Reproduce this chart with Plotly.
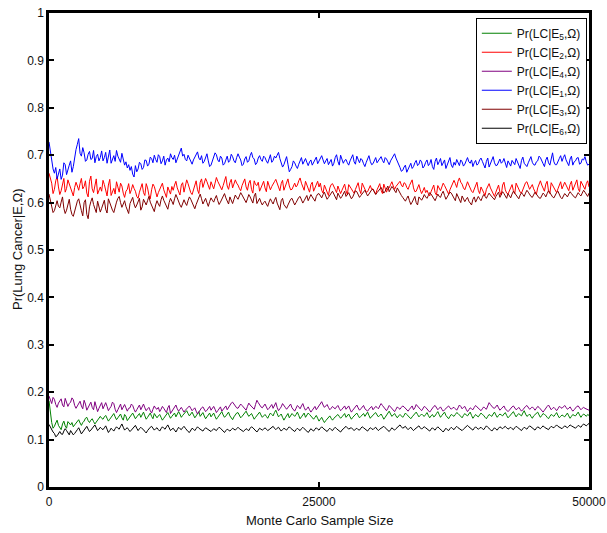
import plotly.graph_objects as go

sample_sizes = list(range(0, 50001, 125))

e1_blue = [
    0.728, 0.705, 0.690, 0.671, 0.662, 0.674, 0.650, 0.663, 0.671, 0.649, 0.658, 0.684, 0.680, 0.659, 0.667, 0.679, 0.688, 0.664, 0.676, 0.697,
    0.712, 0.723, 0.735, 0.704, 0.698, 0.716, 0.705, 0.687, 0.690, 0.702, 0.708, 0.691, 0.693, 0.710, 0.684, 0.697, 0.702, 0.688, 0.695, 0.709,
    0.688, 0.695, 0.706, 0.683, 0.697, 0.711, 0.683, 0.692, 0.699, 0.687, 0.710, 0.698, 0.692, 0.685, 0.704, 0.690, 0.679, 0.686, 0.673, 0.680,
    0.668, 0.676, 0.660, 0.654, 0.678, 0.665, 0.671, 0.685, 0.682, 0.670, 0.674, 0.690, 0.689, 0.677, 0.681, 0.696, 0.693, 0.684, 0.700, 0.691,
    0.685, 0.701, 0.697, 0.682, 0.688, 0.698, 0.679, 0.690, 0.694, 0.686, 0.703, 0.695, 0.691, 0.700, 0.684, 0.692, 0.699, 0.706, 0.715, 0.698,
    0.702, 0.691, 0.688, 0.700, 0.694, 0.685, 0.681, 0.690, 0.697, 0.702, 0.707, 0.694, 0.690, 0.699, 0.683, 0.687, 0.696, 0.703, 0.688, 0.676,
    0.679, 0.688, 0.693, 0.705, 0.701, 0.690, 0.686, 0.698, 0.694, 0.679, 0.682, 0.691, 0.698, 0.685, 0.689, 0.702, 0.697, 0.688, 0.684, 0.695,
    0.703, 0.696, 0.690, 0.678, 0.681, 0.692, 0.697, 0.685, 0.688, 0.699, 0.706, 0.695, 0.692, 0.680, 0.684, 0.694, 0.699, 0.691, 0.687, 0.698,
    0.695, 0.688, 0.683, 0.692, 0.701, 0.685, 0.689, 0.698, 0.694, 0.700, 0.706, 0.693, 0.686, 0.675, 0.680, 0.690, 0.697, 0.681, 0.665, 0.670,
    0.676, 0.688, 0.684, 0.677, 0.672, 0.681, 0.689, 0.695, 0.681, 0.687, 0.693, 0.685, 0.678, 0.686, 0.690, 0.679, 0.684, 0.692, 0.696, 0.682,
    0.688, 0.694, 0.699, 0.690, 0.682, 0.688, 0.693, 0.680, 0.686, 0.691, 0.677, 0.683, 0.695, 0.701, 0.687, 0.679, 0.700, 0.692, 0.683, 0.689,
    0.691, 0.684, 0.679, 0.688, 0.694, 0.701, 0.686, 0.681, 0.698, 0.690, 0.684, 0.693, 0.690, 0.682, 0.676, 0.685, 0.693, 0.699, 0.687, 0.680,
    0.682, 0.689, 0.695, 0.684, 0.688, 0.691, 0.697, 0.689, 0.684, 0.695, 0.692, 0.686, 0.680, 0.688, 0.694, 0.699, 0.703, 0.694, 0.688, 0.681,
    0.674, 0.666, 0.668, 0.675, 0.679, 0.664, 0.671, 0.680, 0.683, 0.672, 0.676, 0.684, 0.689, 0.678, 0.681, 0.690, 0.686, 0.673, 0.677, 0.685,
    0.690, 0.678, 0.682, 0.691, 0.676, 0.670, 0.687, 0.694, 0.680, 0.686, 0.693, 0.678, 0.684, 0.690, 0.672, 0.681, 0.688, 0.695, 0.679, 0.674,
    0.685, 0.679, 0.691, 0.684, 0.678, 0.690, 0.686, 0.677, 0.681, 0.688, 0.695, 0.686, 0.683, 0.690, 0.676, 0.684, 0.689, 0.679, 0.682, 0.690,
    0.694, 0.687, 0.680, 0.673, 0.687, 0.694, 0.675, 0.682, 0.690, 0.697, 0.684, 0.678, 0.679, 0.688, 0.692, 0.683, 0.686, 0.693, 0.681, 0.674,
    0.688, 0.682, 0.677, 0.689, 0.685, 0.680, 0.693, 0.687, 0.680, 0.672, 0.689, 0.696, 0.683, 0.678, 0.676, 0.684, 0.691, 0.697, 0.685, 0.680,
    0.679, 0.686, 0.688, 0.698, 0.695, 0.687, 0.682, 0.676, 0.690, 0.696, 0.684, 0.679, 0.697, 0.705, 0.686, 0.680, 0.680, 0.688, 0.693, 0.699,
    0.687, 0.695, 0.701, 0.690, 0.684, 0.678, 0.692, 0.698, 0.679, 0.686, 0.688, 0.694, 0.695, 0.681, 0.683, 0.692, 0.690, 0.697, 0.686, 0.679,
    0.681]

e2_red = [
    0.662, 0.650, 0.641, 0.619, 0.628, 0.646, 0.655, 0.633, 0.617, 0.625, 0.636, 0.651, 0.622, 0.630, 0.648, 0.640, 0.631, 0.620, 0.614, 0.632,
    0.643, 0.635, 0.626, 0.640, 0.651, 0.629, 0.634, 0.646, 0.620, 0.612, 0.645, 0.656, 0.629, 0.621, 0.639, 0.650, 0.618, 0.627, 0.633, 0.624,
    0.647, 0.638, 0.625, 0.614, 0.637, 0.649, 0.615, 0.623, 0.630, 0.618, 0.644, 0.633, 0.622, 0.641, 0.635, 0.620, 0.611, 0.624, 0.628, 0.640,
    0.619, 0.627, 0.638, 0.630, 0.624, 0.613, 0.609, 0.622, 0.632, 0.640, 0.621, 0.615, 0.640, 0.631, 0.616, 0.608, 0.627, 0.639, 0.634, 0.623,
    0.612, 0.621, 0.629, 0.636, 0.641, 0.627, 0.620, 0.611, 0.633, 0.625, 0.618, 0.634, 0.626, 0.637, 0.645, 0.631, 0.624, 0.616, 0.637, 0.642,
    0.622, 0.635, 0.648, 0.640, 0.630, 0.621, 0.617, 0.628, 0.639, 0.646, 0.627, 0.619, 0.643, 0.650, 0.632, 0.640, 0.651, 0.644, 0.636, 0.628,
    0.644, 0.637, 0.629, 0.641, 0.653, 0.645, 0.638, 0.630, 0.627, 0.636, 0.646, 0.655, 0.635, 0.628, 0.642, 0.649, 0.631, 0.639, 0.648, 0.641,
    0.637, 0.630, 0.625, 0.636, 0.644, 0.650, 0.633, 0.626, 0.641, 0.647, 0.628, 0.620, 0.646, 0.638, 0.636, 0.643, 0.624, 0.631, 0.639, 0.645,
    0.631, 0.623, 0.645, 0.637, 0.627, 0.634, 0.638, 0.644, 0.649, 0.641, 0.632, 0.625, 0.640, 0.647, 0.626, 0.633, 0.643, 0.650, 0.635, 0.627,
    0.628, 0.636, 0.641, 0.633, 0.637, 0.646, 0.652, 0.641, 0.634, 0.626, 0.645, 0.638, 0.629, 0.622, 0.638, 0.643, 0.624, 0.631, 0.640, 0.645,
    0.633, 0.641, 0.626, 0.620, 0.637, 0.630, 0.622, 0.615, 0.631, 0.638, 0.640, 0.632, 0.628, 0.621, 0.635, 0.627, 0.619, 0.626, 0.632, 0.639,
    0.625, 0.617, 0.638, 0.632, 0.629, 0.624, 0.620, 0.628, 0.634, 0.642, 0.627, 0.619, 0.641, 0.635, 0.630, 0.622, 0.623, 0.631, 0.636, 0.628,
    0.629, 0.623, 0.618, 0.627, 0.633, 0.640, 0.626, 0.619, 0.639, 0.632, 0.622, 0.630, 0.631, 0.638, 0.644, 0.635, 0.628, 0.634, 0.637, 0.642,
    0.645, 0.637, 0.633, 0.642, 0.640, 0.632, 0.628, 0.636, 0.643, 0.648, 0.631, 0.623, 0.624, 0.630, 0.638, 0.627, 0.619, 0.625, 0.632, 0.621,
    0.626, 0.619, 0.614, 0.623, 0.630, 0.637, 0.621, 0.616, 0.636, 0.629, 0.625, 0.633, 0.641, 0.636, 0.629, 0.622, 0.618, 0.627, 0.634, 0.641,
    0.647, 0.640, 0.632, 0.645, 0.652, 0.643, 0.639, 0.631, 0.627, 0.635, 0.644, 0.637, 0.630, 0.624, 0.621, 0.629, 0.637, 0.643, 0.626, 0.619,
    0.633, 0.626, 0.619, 0.615, 0.628, 0.635, 0.640, 0.631, 0.624, 0.618, 0.613, 0.622, 0.631, 0.637, 0.622, 0.616, 0.637, 0.643, 0.627, 0.620,
    0.618, 0.625, 0.632, 0.638, 0.625, 0.619, 0.641, 0.634, 0.629, 0.622, 0.620, 0.627, 0.635, 0.642, 0.644, 0.636, 0.628, 0.633, 0.638, 0.629,
    0.624, 0.617, 0.631, 0.640, 0.646, 0.637, 0.630, 0.624, 0.639, 0.645, 0.625, 0.619, 0.642, 0.636, 0.633, 0.627, 0.621, 0.629, 0.637, 0.644,
    0.629, 0.636, 0.643, 0.637, 0.632, 0.625, 0.638, 0.645, 0.626, 0.633, 0.641, 0.648, 0.630, 0.623, 0.645, 0.639, 0.635, 0.628, 0.640, 0.646,
    0.633]

e3_darkred = [
    0.618, 0.605, 0.596, 0.579, 0.583, 0.597, 0.604, 0.592, 0.589, 0.601, 0.612, 0.588, 0.577, 0.584, 0.598, 0.607, 0.586, 0.575, 0.571, 0.582,
    0.594, 0.603, 0.608, 0.591, 0.583, 0.572, 0.600, 0.606, 0.575, 0.566, 0.591, 0.602, 0.610, 0.596, 0.587, 0.579, 0.603, 0.594, 0.580, 0.588,
    0.597, 0.605, 0.586, 0.578, 0.608, 0.599, 0.592, 0.584, 0.579, 0.593, 0.601, 0.609, 0.613, 0.600, 0.590, 0.597, 0.604, 0.592, 0.585, 0.577,
    0.598, 0.606, 0.611, 0.597, 0.589, 0.595, 0.602, 0.609, 0.584, 0.591, 0.607, 0.599, 0.595, 0.604, 0.613, 0.601, 0.593, 0.586, 0.581, 0.595,
    0.604, 0.597, 0.592, 0.606, 0.614, 0.605, 0.598, 0.590, 0.586, 0.600, 0.609, 0.603, 0.596, 0.608, 0.617, 0.610, 0.601, 0.595, 0.590, 0.599,
    0.606, 0.599, 0.594, 0.604, 0.612, 0.607, 0.600, 0.593, 0.587, 0.596, 0.605, 0.611, 0.618, 0.608, 0.597, 0.603, 0.609, 0.600, 0.592, 0.602,
    0.610, 0.605, 0.601, 0.609, 0.615, 0.604, 0.596, 0.601, 0.608, 0.614, 0.619, 0.610, 0.603, 0.597, 0.612, 0.606, 0.598, 0.607, 0.616, 0.611,
    0.607, 0.614, 0.621, 0.616, 0.611, 0.605, 0.600, 0.608, 0.617, 0.612, 0.606, 0.599, 0.614, 0.620, 0.598, 0.604, 0.609, 0.601, 0.595, 0.600,
    0.603, 0.597, 0.592, 0.601, 0.608, 0.602, 0.597, 0.605, 0.611, 0.599, 0.590, 0.585, 0.604, 0.609, 0.596, 0.591, 0.588, 0.595, 0.602, 0.607,
    0.609, 0.602, 0.595, 0.600, 0.606, 0.611, 0.613, 0.605, 0.599, 0.604, 0.610, 0.615, 0.604, 0.611, 0.617, 0.612, 0.608, 0.603, 0.613, 0.618,
    0.619, 0.613, 0.610, 0.617, 0.622, 0.614, 0.607, 0.611, 0.616, 0.621, 0.624, 0.618, 0.612, 0.606, 0.620, 0.615, 0.609, 0.613, 0.618, 0.624,
    0.613, 0.618, 0.621, 0.614, 0.608, 0.612, 0.617, 0.625, 0.623, 0.616, 0.611, 0.615, 0.619, 0.624, 0.626, 0.620, 0.614, 0.618, 0.622, 0.627,
    0.628, 0.622, 0.617, 0.621, 0.625, 0.630, 0.632, 0.626, 0.620, 0.624, 0.629, 0.635, 0.623, 0.628, 0.634, 0.630, 0.626, 0.621, 0.631, 0.625,
    0.619, 0.615, 0.611, 0.606, 0.603, 0.609, 0.614, 0.604, 0.596, 0.601, 0.608, 0.613, 0.600, 0.595, 0.612, 0.607, 0.605, 0.610, 0.617, 0.612,
    0.609, 0.615, 0.621, 0.618, 0.614, 0.608, 0.604, 0.611, 0.618, 0.613, 0.611, 0.619, 0.624, 0.615, 0.607, 0.612, 0.616, 0.622, 0.620, 0.614,
    0.610, 0.604, 0.619, 0.612, 0.605, 0.600, 0.614, 0.609, 0.602, 0.607, 0.611, 0.603, 0.598, 0.595, 0.607, 0.612, 0.601, 0.606, 0.613, 0.608,
    0.604, 0.611, 0.617, 0.613, 0.609, 0.615, 0.620, 0.616, 0.612, 0.608, 0.606, 0.613, 0.618, 0.622, 0.611, 0.617, 0.623, 0.619, 0.614, 0.609,
    0.619, 0.614, 0.610, 0.618, 0.624, 0.620, 0.615, 0.611, 0.608, 0.616, 0.621, 0.617, 0.613, 0.620, 0.626, 0.622, 0.617, 0.613, 0.611, 0.618,
    0.622, 0.618, 0.614, 0.610, 0.609, 0.615, 0.620, 0.617, 0.612, 0.619, 0.625, 0.621, 0.616, 0.612, 0.610, 0.617, 0.621, 0.624, 0.615, 0.611,
    0.608, 0.613, 0.619, 0.616, 0.612, 0.618, 0.623, 0.619, 0.615, 0.612, 0.610, 0.616, 0.621, 0.617, 0.614, 0.620, 0.626, 0.622, 0.617, 0.613,
    0.620]

e5_green = [
    0.182, 0.152, 0.136, 0.124, 0.128, 0.135, 0.141, 0.130, 0.125, 0.121, 0.133, 0.139, 0.129, 0.124, 0.138, 0.134, 0.131, 0.136, 0.127, 0.131,
    0.135, 0.139, 0.142, 0.135, 0.130, 0.136, 0.139, 0.145, 0.147, 0.140, 0.136, 0.141, 0.144, 0.138, 0.133, 0.137, 0.141, 0.146, 0.149, 0.145,
    0.143, 0.148, 0.151, 0.145, 0.139, 0.143, 0.147, 0.152, 0.155, 0.148, 0.142, 0.146, 0.150, 0.154, 0.146, 0.141, 0.153, 0.149, 0.140, 0.145,
    0.148, 0.152, 0.156, 0.149, 0.144, 0.148, 0.152, 0.155, 0.147, 0.153, 0.158, 0.150, 0.143, 0.147, 0.151, 0.156, 0.149, 0.144, 0.155, 0.151,
    0.146, 0.150, 0.153, 0.147, 0.141, 0.145, 0.150, 0.154, 0.157, 0.151, 0.145, 0.149, 0.152, 0.156, 0.148, 0.153, 0.159, 0.154, 0.147, 0.151,
    0.154, 0.158, 0.161, 0.155, 0.150, 0.154, 0.158, 0.152, 0.146, 0.150, 0.155, 0.159, 0.149, 0.153, 0.157, 0.150, 0.144, 0.148, 0.152, 0.156,
    0.148, 0.152, 0.156, 0.149, 0.143, 0.147, 0.151, 0.155, 0.159, 0.152, 0.147, 0.150, 0.154, 0.158, 0.150, 0.146, 0.142, 0.148, 0.153, 0.156,
    0.157, 0.151, 0.146, 0.149, 0.152, 0.156, 0.160, 0.154, 0.149, 0.152, 0.155, 0.149, 0.143, 0.147, 0.151, 0.155, 0.158, 0.152, 0.147, 0.150,
    0.153, 0.149, 0.145, 0.151, 0.156, 0.153, 0.150, 0.157, 0.162, 0.155, 0.148, 0.151, 0.154, 0.147, 0.141, 0.146, 0.151, 0.155, 0.146, 0.150,
    0.155, 0.152, 0.149, 0.153, 0.158, 0.151, 0.144, 0.148, 0.152, 0.156, 0.147, 0.151, 0.156, 0.153, 0.150, 0.146, 0.143, 0.147, 0.151, 0.145,
    0.139, 0.143, 0.147, 0.141, 0.136, 0.140, 0.144, 0.148, 0.150, 0.145, 0.141, 0.145, 0.148, 0.151, 0.153, 0.149, 0.145, 0.148, 0.151, 0.155,
    0.147, 0.151, 0.154, 0.148, 0.143, 0.147, 0.150, 0.154, 0.156, 0.151, 0.146, 0.149, 0.152, 0.155, 0.149, 0.153, 0.158, 0.151, 0.145, 0.149,
    0.151, 0.155, 0.157, 0.152, 0.148, 0.151, 0.154, 0.149, 0.143, 0.147, 0.152, 0.156, 0.160, 0.154, 0.149, 0.152, 0.155, 0.150, 0.146, 0.150,
    0.153, 0.150, 0.147, 0.151, 0.156, 0.153, 0.150, 0.147, 0.144, 0.148, 0.152, 0.155, 0.158, 0.153, 0.148, 0.151, 0.154, 0.151, 0.149, 0.153,
    0.157, 0.151, 0.146, 0.150, 0.153, 0.148, 0.150, 0.155, 0.159, 0.153, 0.147, 0.151, 0.155, 0.158, 0.151, 0.147, 0.144, 0.149, 0.153, 0.151,
    0.149, 0.153, 0.157, 0.155, 0.152, 0.149, 0.146, 0.151, 0.155, 0.152, 0.150, 0.154, 0.158, 0.151, 0.145, 0.149, 0.153, 0.150, 0.148, 0.152,
    0.156, 0.153, 0.151, 0.147, 0.144, 0.149, 0.153, 0.151, 0.149, 0.154, 0.158, 0.152, 0.147, 0.151, 0.154, 0.152, 0.150, 0.154, 0.157, 0.151,
    0.146, 0.149, 0.152, 0.156, 0.159, 0.153, 0.148, 0.152, 0.155, 0.152, 0.150, 0.156, 0.161, 0.154, 0.149, 0.151, 0.154, 0.149, 0.145, 0.150,
    0.153, 0.156, 0.158, 0.152, 0.147, 0.151, 0.155, 0.153, 0.151, 0.147, 0.144, 0.149, 0.153, 0.151, 0.149, 0.153, 0.157, 0.151, 0.146, 0.149,
    0.152, 0.150, 0.148, 0.152, 0.156, 0.150, 0.145, 0.149, 0.153, 0.151, 0.150, 0.154, 0.158, 0.152, 0.147, 0.151, 0.154, 0.152, 0.149, 0.153,
    0.151]

e4_purple = [
    0.192, 0.183, 0.176, 0.189, 0.185, 0.174, 0.168, 0.177, 0.181, 0.186, 0.173, 0.169, 0.187, 0.180, 0.170, 0.176, 0.179, 0.188, 0.184, 0.172,
    0.166, 0.171, 0.177, 0.181, 0.171, 0.165, 0.183, 0.175, 0.162, 0.168, 0.174, 0.179, 0.168, 0.163, 0.180, 0.171, 0.159, 0.166, 0.172, 0.178,
    0.165, 0.171, 0.178, 0.170, 0.161, 0.166, 0.170, 0.179, 0.176, 0.164, 0.157, 0.163, 0.169, 0.175, 0.163, 0.168, 0.174, 0.167, 0.160, 0.166,
    0.167, 0.175, 0.172, 0.164, 0.158, 0.163, 0.169, 0.173, 0.163, 0.168, 0.175, 0.167, 0.161, 0.165, 0.168, 0.161, 0.156, 0.164, 0.171, 0.166,
    0.164, 0.168, 0.159, 0.164, 0.170, 0.166, 0.162, 0.157, 0.167, 0.172, 0.155, 0.160, 0.166, 0.170, 0.173, 0.165, 0.160, 0.164, 0.168, 0.163,
    0.158, 0.162, 0.165, 0.169, 0.171, 0.166, 0.161, 0.164, 0.167, 0.160, 0.154, 0.158, 0.163, 0.167, 0.169, 0.163, 0.159, 0.162, 0.166, 0.170,
    0.162, 0.166, 0.170, 0.164, 0.157, 0.161, 0.165, 0.169, 0.160, 0.164, 0.168, 0.171, 0.163, 0.168, 0.174, 0.177, 0.179, 0.174, 0.171, 0.167,
    0.166, 0.171, 0.175, 0.172, 0.169, 0.165, 0.162, 0.170, 0.177, 0.173, 0.170, 0.166, 0.164, 0.174, 0.183, 0.178, 0.172, 0.169, 0.167, 0.171,
    0.175, 0.169, 0.163, 0.166, 0.170, 0.174, 0.166, 0.172, 0.178, 0.168, 0.161, 0.165, 0.169, 0.176, 0.173, 0.168, 0.164, 0.167, 0.171, 0.175,
    0.167, 0.163, 0.160, 0.166, 0.172, 0.169, 0.165, 0.171, 0.176, 0.168, 0.162, 0.165, 0.169, 0.163, 0.158, 0.162, 0.166, 0.170, 0.163, 0.167,
    0.171, 0.176, 0.180, 0.173, 0.168, 0.171, 0.174, 0.168, 0.163, 0.166, 0.170, 0.167, 0.165, 0.169, 0.172, 0.166, 0.161, 0.164, 0.168, 0.171,
    0.164, 0.168, 0.171, 0.164, 0.158, 0.162, 0.166, 0.170, 0.173, 0.167, 0.162, 0.165, 0.169, 0.172, 0.165, 0.162, 0.160, 0.164, 0.167, 0.170,
    0.163, 0.167, 0.170, 0.168, 0.165, 0.171, 0.176, 0.172, 0.168, 0.164, 0.161, 0.166, 0.172, 0.169, 0.166, 0.162, 0.159, 0.164, 0.169, 0.166,
    0.164, 0.168, 0.171, 0.169, 0.166, 0.163, 0.160, 0.164, 0.168, 0.171, 0.163, 0.167, 0.174, 0.170, 0.167, 0.164, 0.161, 0.165, 0.170, 0.168,
    0.165, 0.161, 0.158, 0.162, 0.167, 0.170, 0.172, 0.168, 0.163, 0.166, 0.169, 0.164, 0.160, 0.163, 0.166, 0.169, 0.171, 0.167, 0.164, 0.167,
    0.168, 0.165, 0.162, 0.167, 0.173, 0.170, 0.165, 0.168, 0.170, 0.164, 0.159, 0.163, 0.167, 0.165, 0.163, 0.168, 0.172, 0.169, 0.166, 0.163,
    0.161, 0.165, 0.169, 0.166, 0.164, 0.171, 0.178, 0.174, 0.170, 0.167, 0.166, 0.170, 0.173, 0.167, 0.162, 0.165, 0.168, 0.171, 0.165, 0.162,
    0.159, 0.162, 0.166, 0.169, 0.171, 0.167, 0.163, 0.165, 0.168, 0.164, 0.160, 0.163, 0.167, 0.170, 0.172, 0.168, 0.164, 0.166, 0.169, 0.166,
    0.162, 0.166, 0.170, 0.168, 0.165, 0.161, 0.158, 0.162, 0.167, 0.170, 0.173, 0.168, 0.163, 0.166, 0.168, 0.165, 0.161, 0.165, 0.170, 0.168,
    0.166, 0.169, 0.172, 0.168, 0.164, 0.166, 0.169, 0.164, 0.160, 0.163, 0.167, 0.170, 0.171, 0.167, 0.163, 0.166, 0.168, 0.166, 0.165, 0.163,
    0.162]

e6_black = [
    0.132, 0.126, 0.121, 0.116, 0.113, 0.106, 0.108, 0.113, 0.117, 0.112, 0.111, 0.118, 0.123, 0.119, 0.114, 0.110, 0.119, 0.115, 0.110, 0.113,
    0.116, 0.121, 0.125, 0.118, 0.112, 0.116, 0.120, 0.124, 0.128, 0.122, 0.117, 0.120, 0.123, 0.127, 0.131, 0.125, 0.119, 0.122, 0.126, 0.123,
    0.121, 0.125, 0.129, 0.122, 0.115, 0.119, 0.124, 0.121, 0.118, 0.123, 0.127, 0.124, 0.122, 0.128, 0.133, 0.126, 0.120, 0.123, 0.125, 0.121,
    0.117, 0.120, 0.124, 0.127, 0.130, 0.124, 0.119, 0.123, 0.126, 0.123, 0.121, 0.117, 0.114, 0.119, 0.123, 0.126, 0.128, 0.124, 0.120, 0.123,
    0.125, 0.121, 0.118, 0.123, 0.127, 0.124, 0.122, 0.127, 0.131, 0.125, 0.119, 0.122, 0.124, 0.120, 0.116, 0.121, 0.126, 0.123, 0.121, 0.125,
    0.128, 0.124, 0.120, 0.117, 0.115, 0.120, 0.124, 0.122, 0.119, 0.123, 0.127, 0.124, 0.122, 0.119, 0.118, 0.122, 0.125, 0.123, 0.121, 0.119,
    0.117, 0.120, 0.123, 0.121, 0.119, 0.123, 0.126, 0.124, 0.121, 0.118, 0.115, 0.119, 0.122, 0.120, 0.118, 0.121, 0.124, 0.122, 0.120, 0.123,
    0.126, 0.123, 0.121, 0.119, 0.117, 0.120, 0.123, 0.121, 0.119, 0.124, 0.127, 0.125, 0.122, 0.119, 0.116, 0.120, 0.124, 0.122, 0.120, 0.122,
    0.125, 0.122, 0.119, 0.121, 0.123, 0.126, 0.128, 0.124, 0.121, 0.124, 0.126, 0.122, 0.118, 0.121, 0.124, 0.122, 0.120, 0.124, 0.127, 0.124,
    0.122, 0.119, 0.117, 0.121, 0.124, 0.121, 0.119, 0.123, 0.126, 0.123, 0.121, 0.118, 0.115, 0.119, 0.123, 0.120, 0.118, 0.122, 0.125, 0.122,
    0.120, 0.124, 0.127, 0.124, 0.122, 0.119, 0.117, 0.121, 0.124, 0.121, 0.119, 0.123, 0.126, 0.123, 0.121, 0.118, 0.116, 0.120, 0.123, 0.126,
    0.128, 0.125, 0.122, 0.124, 0.125, 0.122, 0.119, 0.122, 0.124, 0.121, 0.120, 0.124, 0.127, 0.125, 0.123, 0.120, 0.118, 0.122, 0.125, 0.123,
    0.121, 0.124, 0.126, 0.122, 0.119, 0.122, 0.124, 0.127, 0.128, 0.125, 0.122, 0.119, 0.117, 0.121, 0.125, 0.122, 0.120, 0.123, 0.126, 0.129,
    0.131, 0.127, 0.124, 0.126, 0.128, 0.124, 0.121, 0.124, 0.126, 0.122, 0.119, 0.122, 0.124, 0.127, 0.129, 0.125, 0.122, 0.125, 0.127, 0.125,
    0.123, 0.120, 0.118, 0.122, 0.125, 0.122, 0.120, 0.124, 0.127, 0.124, 0.122, 0.119, 0.116, 0.120, 0.124, 0.121, 0.119, 0.123, 0.126, 0.123,
    0.121, 0.125, 0.128, 0.125, 0.123, 0.121, 0.119, 0.122, 0.125, 0.128, 0.130, 0.127, 0.124, 0.122, 0.120, 0.124, 0.127, 0.124, 0.122, 0.124,
    0.126, 0.123, 0.121, 0.125, 0.129, 0.126, 0.124, 0.121, 0.118, 0.122, 0.125, 0.122, 0.120, 0.124, 0.127, 0.125, 0.123, 0.126, 0.128, 0.125,
    0.122, 0.124, 0.126, 0.123, 0.121, 0.125, 0.128, 0.126, 0.124, 0.121, 0.119, 0.123, 0.126, 0.124, 0.122, 0.126, 0.129, 0.127, 0.125, 0.122,
    0.120, 0.124, 0.127, 0.125, 0.123, 0.126, 0.129, 0.126, 0.124, 0.122, 0.121, 0.125, 0.128, 0.126, 0.125, 0.128, 0.131, 0.128, 0.126, 0.124,
    0.123, 0.126, 0.129, 0.127, 0.125, 0.128, 0.131, 0.129, 0.127, 0.125, 0.124, 0.127, 0.130, 0.128, 0.126, 0.130, 0.133, 0.131, 0.129, 0.132,
    0.134]

series_names = ["Pr(LC|E<sub>5</sub>,Ω)", "Pr(LC|E<sub>2</sub>,Ω)", "Pr(LC|E<sub>4</sub>,Ω)",
                "Pr(LC|E<sub>1</sub>,Ω)", "Pr(LC|E<sub>3</sub>,Ω)", "Pr(LC|E<sub>6</sub>,Ω)"]
series_values = [e5_green, e2_red, e4_purple, e1_blue, e3_darkred, e6_black]
series_colors = ["#008000", "#ff0000", "#800080", "#0000ff", "#800000", "#000000"]

y_ticks = [0, 0.1, 0.2, 0.3, 0.4, 0.5, 0.6, 0.7, 0.8, 0.9, 1]
y_tick_labels = ["0", "0.1", "0.2", "0.3", "0.4", "0.5", "0.6", "0.7", "0.8", "0.9", "1"]
x_ticks = [0, 25000, 50000]
x_tick_labels = ["0", "25000", "50000"]
x_title = "Monte Carlo Sample Size"
y_title = "Pr(Lung Cancer|E,Ω)"

fig = go.Figure()
for name, vals, col in zip(series_names, series_values, series_colors):
    n = min(len(vals), len(sample_sizes))
    fig.add_trace(go.Scatter(x=sample_sizes[:n], y=vals[:n], mode="lines", name=name,
                             line=dict(color=col, width=1)))

font_family = "Liberation Sans, Arial, sans-serif"
fig.update_layout(
    width=607, height=533,
    margin=dict(l=49, r=18, t=13, b=46),
    paper_bgcolor="white", plot_bgcolor="white",
    font=dict(family=font_family, size=12, color="#111111"),
    showlegend=True,
    legend=dict(x=0.996, y=0.99, xanchor="right", yanchor="top",
                bgcolor="white", bordercolor="black", borderwidth=1,
                font=dict(size=12), itemwidth=30, tracegroupgap=0),
    xaxis=dict(range=[0, 50000], tickvals=x_ticks, ticktext=x_tick_labels,
               ticks="inside", ticklen=5, tickwidth=1.5, tickcolor="black",
               showline=True, linecolor="black", linewidth=2.5, mirror="ticks",
               showgrid=False, zeroline=False, automargin=False,
               tickfont=dict(size=12), ticklabelstandoff=2),
    yaxis=dict(range=[0, 1], tickvals=y_ticks, ticktext=y_tick_labels,
               ticks="inside", ticklen=5, tickwidth=1.5, tickcolor="black",
               showline=True, linecolor="black", linewidth=2.5, mirror="ticks",
               showgrid=False, zeroline=False, automargin=False,
               tickfont=dict(size=12)),
    annotations=[
        dict(text=x_title, xref="paper", yref="paper", x=0.5, y=0, yshift=-33,
             xanchor="center", yanchor="middle", showarrow=False, font=dict(size=13)),
        dict(text=y_title, xref="paper", yref="paper", x=0, y=0.5, xshift=-32,
             xanchor="center", yanchor="middle", textangle=-90, showarrow=False,
             font=dict(size=13)),
    ],
)

fig.write_html("out.html")
